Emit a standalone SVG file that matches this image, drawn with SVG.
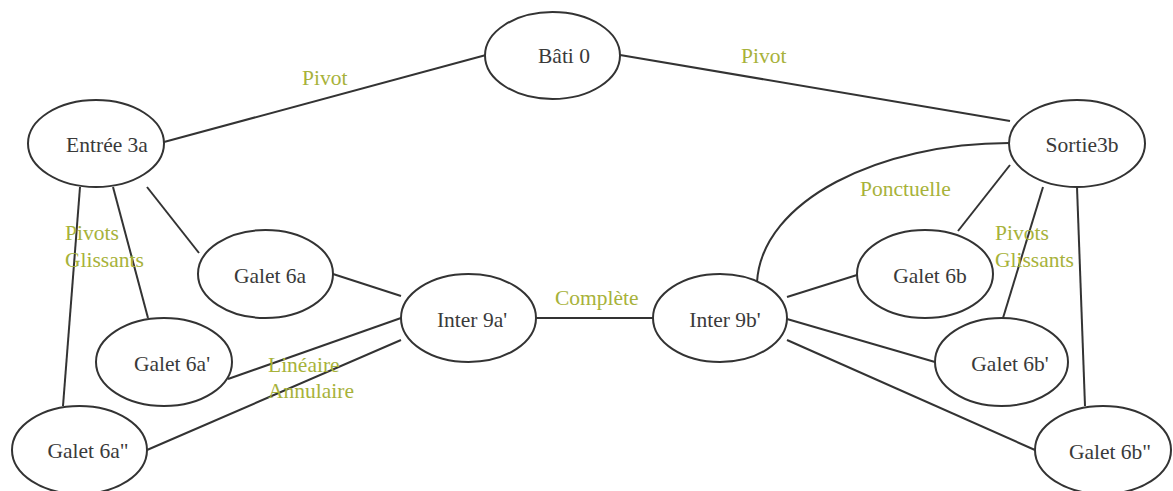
<svg xmlns="http://www.w3.org/2000/svg" width="1173" height="491" viewBox="0 0 1173 491">
  <style>
    .node ellipse { fill: #ffffff; stroke: #333333; stroke-width: 2; }
    .node text { font-family: "Liberation Serif", "DejaVu Serif", serif; font-size: 21.5px; fill: #3a3a3a; text-anchor: middle; }
    .edges line, .edges path { stroke: #333333; stroke-width: 2; fill: none; }
    .label { font-family: "Liberation Serif", "DejaVu Serif", serif; font-size: 21.5px; fill: #a7b23a; }
  </style>
  <rect width="1173" height="491" fill="#ffffff"/>

  <!-- connectors -->
  <g class="edges">
    <line x1="164" y1="142" x2="486" y2="55"/>
    <line x1="620" y1="55" x2="1010" y2="121"/>
    <path d="M757,282 C762,200 880,143 1009,143"/>
    <line x1="1010" y1="165" x2="958" y2="231"/>
    <line x1="1043" y1="187" x2="1003" y2="318"/>
    <line x1="1077" y1="187" x2="1085" y2="406"/>
    <line x1="787" y1="297" x2="857" y2="275"/>
    <line x1="787" y1="319" x2="935" y2="362"/>
    <line x1="787" y1="340" x2="1035" y2="450"/>
    <line x1="536" y1="318" x2="653" y2="318"/>
    <line x1="333" y1="274" x2="401" y2="296"/>
    <line x1="228" y1="379" x2="401" y2="318"/>
    <line x1="147" y1="450" x2="401" y2="340"/>
    <line x1="147" y1="187" x2="199" y2="253"/>
    <line x1="113" y1="187" x2="148" y2="318"/>
    <line x1="80" y1="187" x2="63" y2="406"/>
  </g>

  <!-- connector labels -->
  <g id="labels">
    <text class="label" x="302" y="85">Pivot</text>
    <text class="label" x="741" y="63">Pivot</text>
    <text class="label" x="65" y="240">Pivots</text>
    <text class="label" x="65" y="267">Glissants</text>
    <text class="label" x="268" y="372">Linéaire</text>
    <text class="label" x="268" y="398">Annulaire</text>
    <text class="label" x="555" y="305">Complète</text>
    <text class="label" x="860" y="196">Ponctuelle</text>
    <text class="label" x="995" y="240">Pivots</text>
    <text class="label" x="995" y="267">Glissants</text>
  </g>

  <!-- nodes -->
  <g id="bati0" class="node">
    <ellipse cx="552.5" cy="55.5" rx="67.5" ry="43.5"/>
    <text x="564" y="63">Bâti 0</text>
  </g>
  <g id="entree3a" class="node">
    <ellipse cx="96" cy="143.5" rx="68" ry="43.5"/>
    <text x="107" y="152">Entrée 3a</text>
  </g>
  <g id="sortie3b" class="node">
    <ellipse cx="1077" cy="143.5" rx="68" ry="43.5"/>
    <text x="1082" y="152">Sortie3b</text>
  </g>
  <g id="galet6a" class="node">
    <ellipse cx="265.5" cy="274" rx="67.5" ry="44"/>
    <text x="270" y="283">Galet 6a</text>
  </g>
  <g id="galet6a1" class="node">
    <ellipse cx="164" cy="362" rx="68" ry="44"/>
    <text x="172" y="371">Galet 6a'</text>
  </g>
  <g id="galet6a2" class="node">
    <ellipse cx="79.5" cy="450" rx="67.5" ry="44"/>
    <text x="88" y="458">Galet 6a"</text>
  </g>
  <g id="inter9a" class="node">
    <ellipse cx="468.5" cy="318" rx="67.5" ry="44"/>
    <text x="472" y="327">Inter 9a'</text>
  </g>
  <g id="inter9b" class="node">
    <ellipse cx="720" cy="318" rx="67" ry="44"/>
    <text x="725" y="327">Inter 9b'</text>
  </g>
  <g id="galet6b" class="node">
    <ellipse cx="925" cy="274" rx="68" ry="44"/>
    <text x="930" y="283">Galet 6b</text>
  </g>
  <g id="galet6b1" class="node">
    <ellipse cx="1001.5" cy="362" rx="66.5" ry="44"/>
    <text x="1010" y="371">Galet 6b'</text>
  </g>
  <g id="galet6b2" class="node">
    <ellipse cx="1103" cy="450" rx="68" ry="44"/>
    <text x="1110" y="459">Galet 6b"</text>
  </g>
</svg>
